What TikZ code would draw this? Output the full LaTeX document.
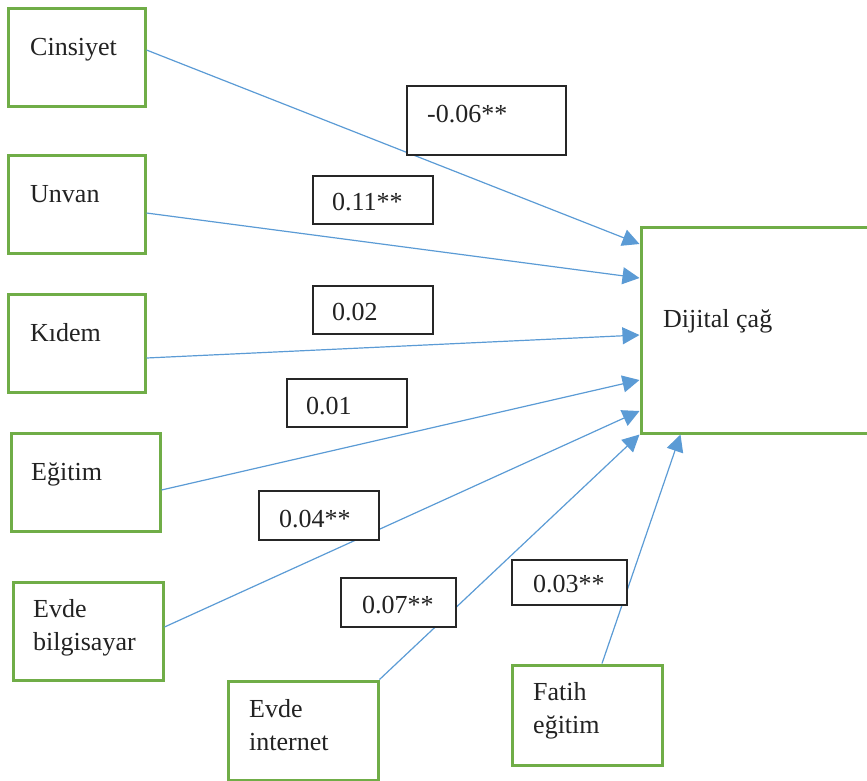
\documentclass[tikz,border=0pt]{standalone}
\usepackage{fontspec}
\setmainfont{Liberation Serif}
\usetikzlibrary{arrows.meta}
\definecolor{boxgreen}{HTML}{70AD47}
\definecolor{linkblue}{HTML}{5B9BD5}
\definecolor{inkgray}{HTML}{222222}
\begin{document}
\begin{tikzpicture}[x=1pt,y=-1pt,
  varbox/.style={draw=boxgreen,line width=3pt,fill=white,inner sep=0pt,
    minimum width=#1},
  varbox/.default=137pt,
  coefbox/.style={draw=black!85,line width=1.4pt,fill=white,inner sep=0pt},
  txt/.style={anchor=base west,inner sep=0pt,text=inkgray,
    font=\fontsize{26}{30}\selectfont},
  link/.style={draw=linkblue,line width=1.2pt,
    -{Triangle[length=17pt,width=17pt]}}]
\useasboundingbox (0,0) rectangle (867,780);

% predictor boxes
\node[varbox, minimum height=98pt] (cins) at (76.5,57) {};
\node[varbox, minimum height=98pt] (unvan) at (76.5,204) {};
\node[varbox, minimum height=98pt] (kidem) at (76.5,343) {};
\node[varbox=149pt, minimum height=98pt] (egit) at (85.5,482) {};
\node[varbox=150pt, minimum height=98pt] (bilg) at (88,631) {};
\node[varbox=150pt, minimum height=99pt] (inet) at (303,730.5) {};
\node[varbox=150pt, minimum height=100pt] (fatih) at (587,715) {};
% outcome box
\node[varbox=259pt, minimum height=206pt] (dig) at (770.5,330) {};

% paths
\draw[link] ([yshift=7pt]cins.east) -- ([yshift=86pt]dig.west);
\draw[link] ([yshift=-9pt]unvan.east) -- ([yshift=52pt]dig.west);
\draw[link] ([yshift=-15pt]kidem.east) -- ([yshift=-5pt]dig.west);
\draw[link] ([yshift=-8pt]egit.east) -- ([yshift=-50pt]dig.west);
\draw[link] ([yshift=4pt]bilg.east) -- ([yshift=-81pt]dig.west);
\draw[link] (inet.north east) -- (dig.south west);
\draw[link] ([xshift=15pt]fatih.north) -- ([xshift=41pt]dig.south west);

% coefficient boxes
\node[coefbox, minimum width=159pt, minimum height=69pt] (c1) at (486.5,120.5) {};
\node[coefbox, minimum width=120pt, minimum height=48pt] (c2) at (373,200) {};
\node[coefbox, minimum width=120pt, minimum height=48pt] (c3) at (373,310) {};
\node[coefbox, minimum width=120pt, minimum height=48pt] (c4) at (347,403) {};
\node[coefbox, minimum width=120pt, minimum height=49pt] (c5) at (319,515.5) {};
\node[coefbox, minimum width=115pt, minimum height=49pt] (c6) at (398.5,602.5) {};
\node[coefbox, minimum width=115pt, minimum height=45pt] (c7) at (569.5,582.5) {};

% box texts
\node[txt] (tcins) at (30,55) {Cinsiyet};
\node[txt] (tunvan) at (30,202) {Unvan};
\node[txt] (tkidem) at (30,341) {Kıdem};
\node[txt] (tegit) at (31,480) {Eğitim};
\node[txt] (tbilg1) at (33,617) {Evde};
\node[txt] (tbilg2) at (33,650) {bilgisayar};
\node[txt] (tinet1) at (249,717) {Evde};
\node[txt] (tinet2) at (249,750) {internet};
\node[txt] (tfat1) at (533,700) {Fatih};
\node[txt] (tfat2) at (533,733) {eğitim};
\node[txt] (tdig) at (663,327) {Dijital çağ};

% coefficient texts
\node[txt] (tc1) at (427,122) {-0.06**};
\node[txt] (tc2) at (332,210) {0.11**};
\node[txt] (tc3) at (332,320) {0.02};
\node[txt] (tc4) at (306,414) {0.01};
\node[txt] (tc5) at (279,527) {0.04**};
\node[txt] (tc6) at (362,613) {0.07**};
\node[txt] (tc7) at (533,592) {0.03**};
\end{tikzpicture}
\end{document}
